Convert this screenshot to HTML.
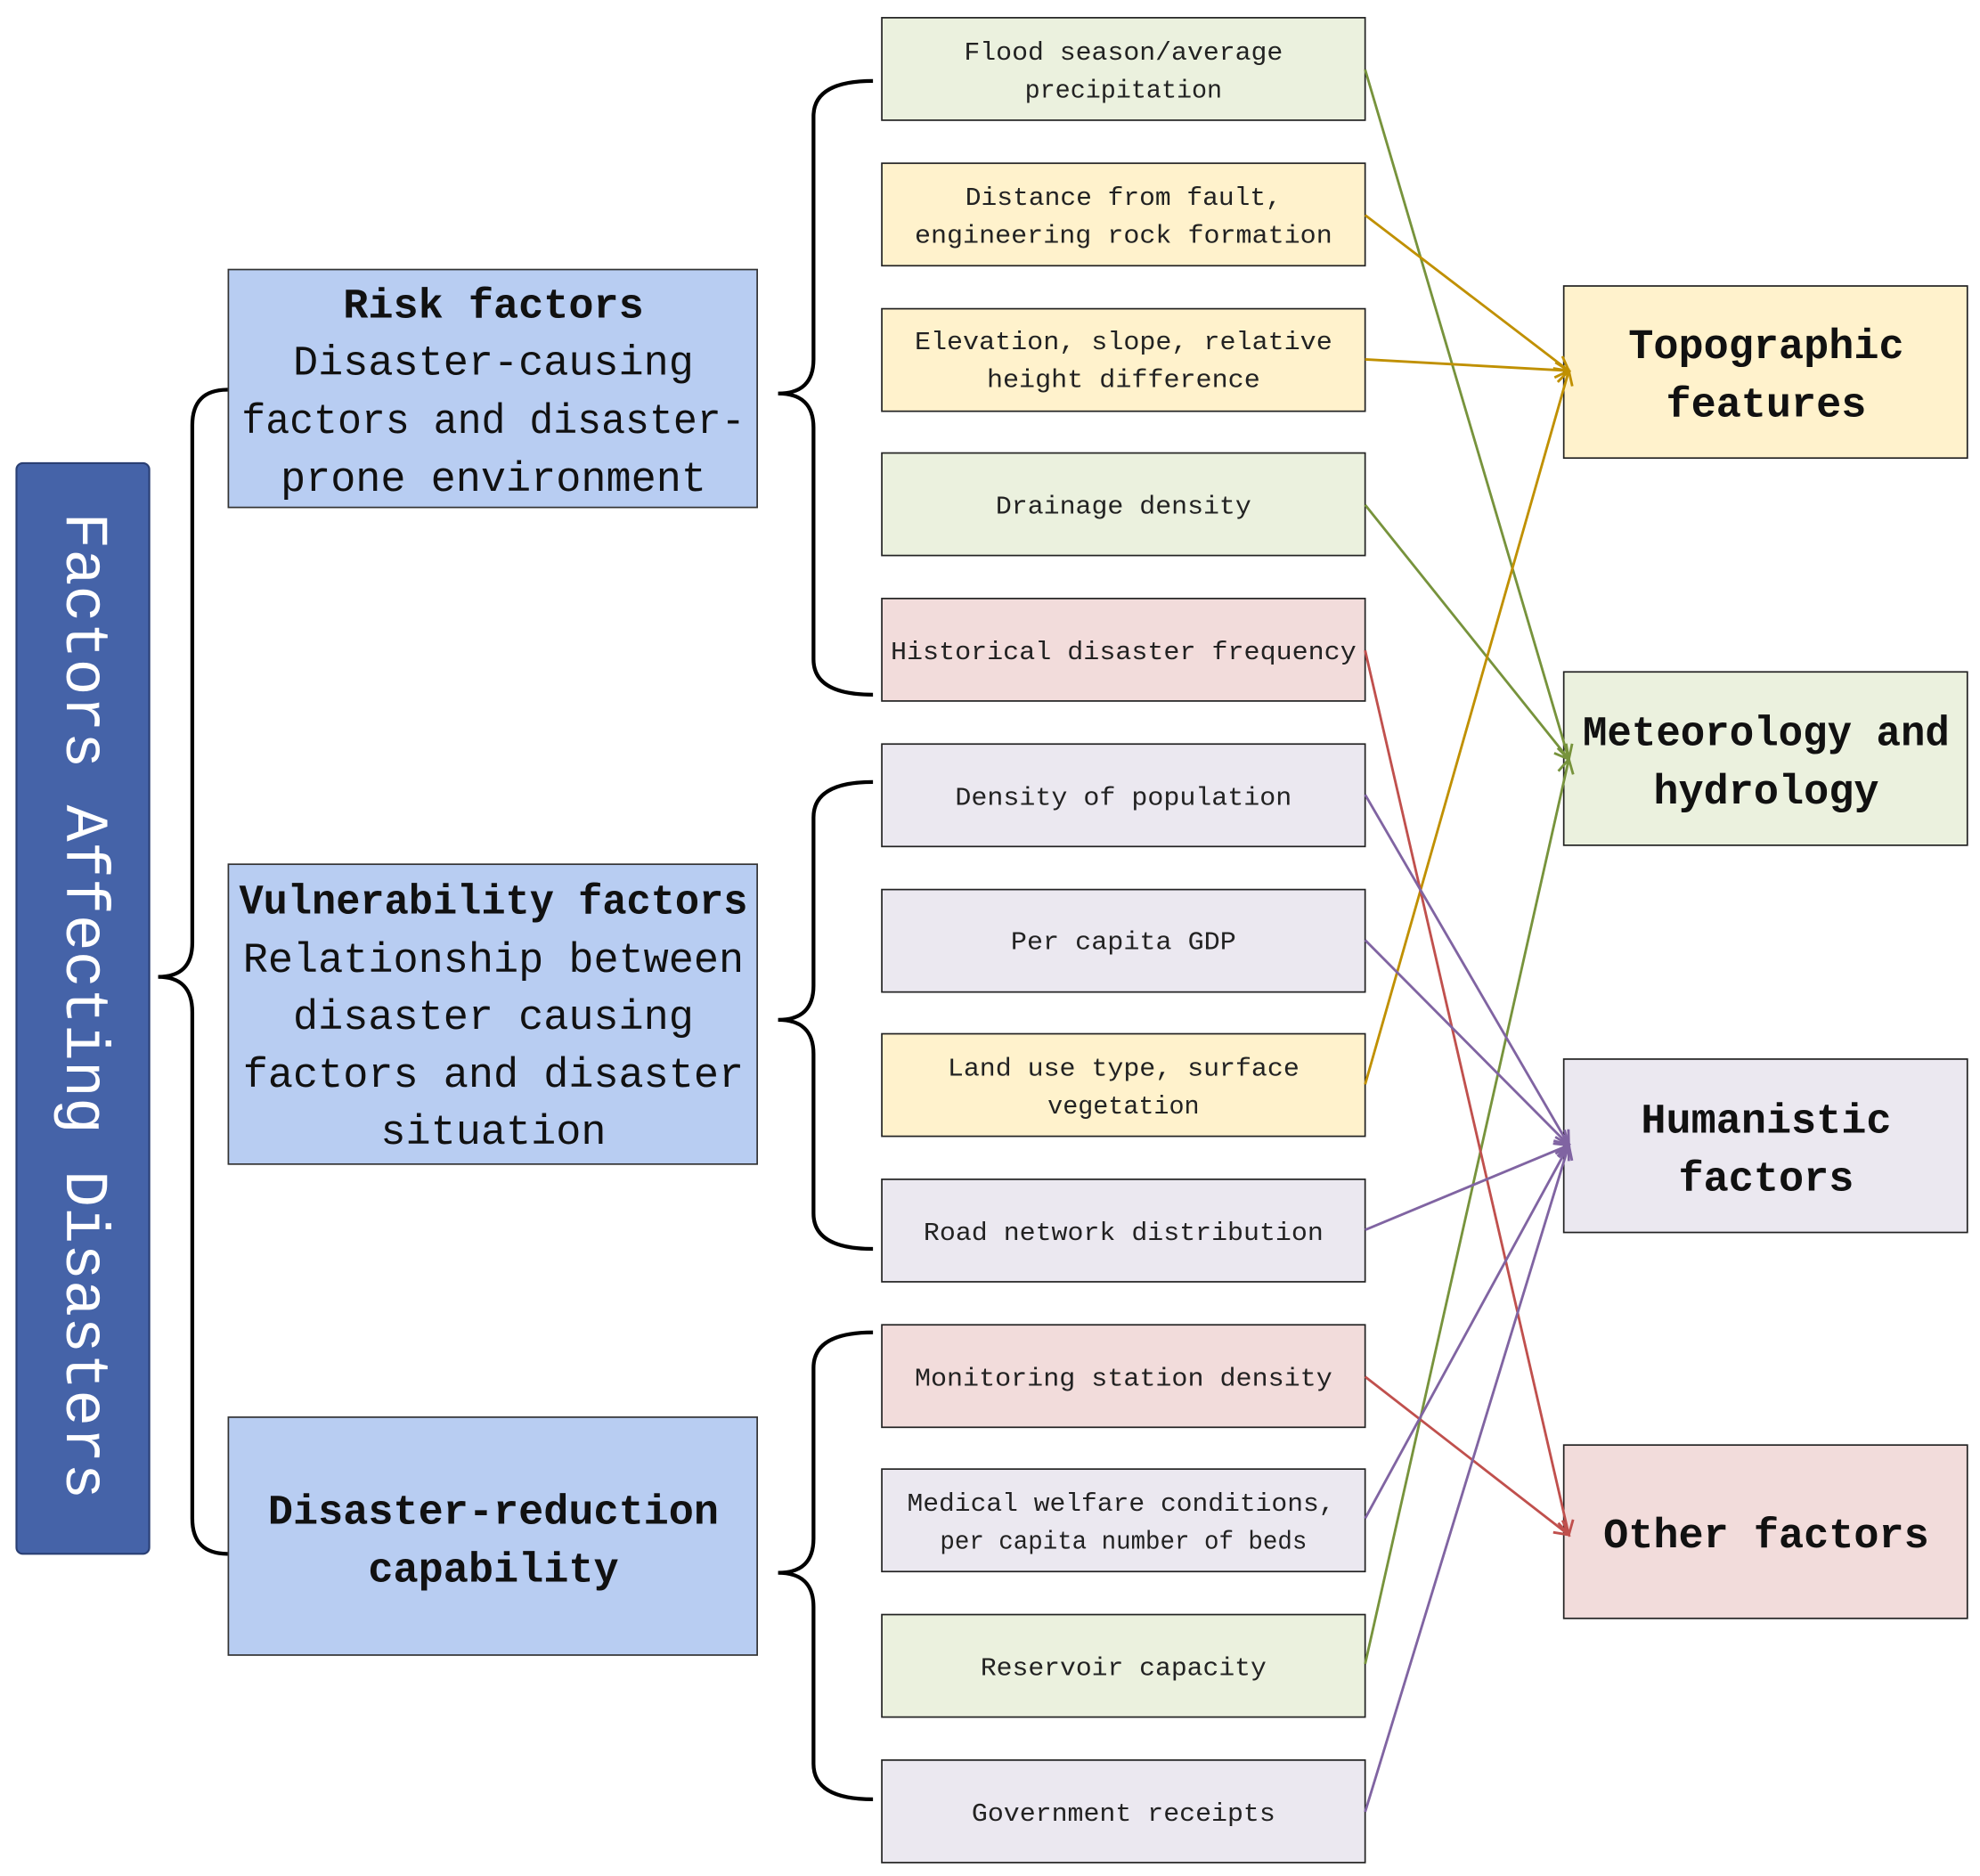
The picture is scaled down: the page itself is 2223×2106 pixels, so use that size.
<!DOCTYPE html>
<html><head><meta charset="utf-8"><style>
html,body{margin:0;padding:0;background:#fff;}
svg{display:block;}
.s{font-family:"Liberation Mono","Noto Serif CJK SC",monospace;font-size:20px;fill:#222;}
.m{font-family:"Liberation Mono","Noto Serif CJK SC",monospace;font-size:33px;fill:#111;}
.b{font-weight:bold;}
</style></head><body>
<svg width="2223" height="2106" viewBox="0 0 1565 1482.6" preserveAspectRatio="none" xmlns="http://www.w3.org/2000/svg">
<defs>
<marker id="ag" markerWidth="14" markerHeight="14" refX="12" refY="7" orient="auto" markerUnits="userSpaceOnUse"><path d="M1,1 L12,7 L1,13" fill="none" stroke="#77933c" stroke-width="2"/></marker>
<marker id="ay" markerWidth="14" markerHeight="14" refX="12" refY="7" orient="auto" markerUnits="userSpaceOnUse"><path d="M1,1 L12,7 L1,13" fill="none" stroke="#c09000" stroke-width="2"/></marker>
<marker id="ar" markerWidth="14" markerHeight="14" refX="12" refY="7" orient="auto" markerUnits="userSpaceOnUse"><path d="M1,1 L12,7 L1,13" fill="none" stroke="#c0504d" stroke-width="2"/></marker>
<marker id="ap" markerWidth="14" markerHeight="14" refX="12" refY="7" orient="auto" markerUnits="userSpaceOnUse"><path d="M1,1 L12,7 L1,13" fill="none" stroke="#8064a2" stroke-width="2"/></marker>
</defs>

<!-- left title box -->
<rect x="13" y="366" width="105" height="862" rx="5" fill="#4563a8" stroke="#2a3f73" stroke-width="1.5"/>
<text transform="translate(65,795) rotate(90)" text-anchor="middle" dominant-baseline="central" font-family="Liberation Mono, monospace" font-size="48" fill="#fff" textLength="780" lengthAdjust="spacingAndGlyphs">Factors Affecting Disasters</text>

<!-- big brace -->
<path d="M180,308 Q152,308 152,336 L152,745 Q152,772 125,772 Q152,772 152,800 L152,1200 Q152,1228 180,1228" fill="none" stroke="#000" stroke-width="3"/>

<!-- middle boxes -->
<rect x="180.5" y="213" width="418" height="188" fill="#b8cdf2" stroke="#333" stroke-width="1.2"/>
<text class="m b" x="390" y="251" text-anchor="middle">Risk factors</text>
<text class="m" x="390" y="296" text-anchor="middle">Disaster-causing</text>
<text class="m" x="390" y="342" text-anchor="middle" textLength="398" lengthAdjust="spacingAndGlyphs">factors and disaster-</text>
<text class="m" x="390" y="388" text-anchor="middle">prone environment</text>

<rect x="180.5" y="683" width="418" height="237" fill="#b8cdf2" stroke="#333" stroke-width="1.2"/>
<text class="m b" x="390" y="722" text-anchor="middle" textLength="402" lengthAdjust="spacingAndGlyphs">Vulnerability factors</text>
<text class="m" x="390" y="768" text-anchor="middle">Relationship between</text>
<text class="m" x="390" y="813" text-anchor="middle">disaster causing</text>
<text class="m" x="390" y="859" text-anchor="middle">factors and disaster</text>
<text class="m" x="390" y="904" text-anchor="middle">situation</text>

<rect x="180.5" y="1120" width="418" height="188" fill="#b8cdf2" stroke="#333" stroke-width="1.2"/>
<text class="m b" x="390" y="1204" text-anchor="middle">Disaster-reduction</text>
<text class="m b" x="390" y="1250" text-anchor="middle">capability</text>

<!-- right braces -->
<path d="M690,64 Q643,64 643,92 L643,284 Q643,311 615,311 Q643,311 643,338 L643,521 Q643,549 690,549" fill="none" stroke="#000" stroke-width="3"/>
<path d="M690,618 Q643,618 643,646 L643,779 Q643,806 615,806 Q643,806 643,833 L643,959 Q643,987 690,987" fill="none" stroke="#000" stroke-width="3"/>
<path d="M690,1053 Q643,1053 643,1081 L643,1216 Q643,1243 615,1243 Q643,1243 643,1270 L643,1394 Q643,1422 690,1422" fill="none" stroke="#000" stroke-width="3"/>

<!-- small boxes -->
<g stroke="#222" stroke-width="1.2">
<rect x="697" y="14" width="382" height="81" fill="#ebf1de"/>
<rect x="697" y="129" width="382" height="81" fill="#fff2cc"/>
<rect x="697" y="244" width="382" height="81" fill="#fff2cc"/>
<rect x="697" y="358" width="382" height="81" fill="#ebf1de"/>
<rect x="697" y="473" width="382" height="81" fill="#f2dcdb"/>
<rect x="697" y="588" width="382" height="81" fill="#ebe8f0"/>
<rect x="697" y="703" width="382" height="81" fill="#ebe8f0"/>
<rect x="697" y="817" width="382" height="81" fill="#fff2cc"/>
<rect x="697" y="932" width="382" height="81" fill="#ebe8f0"/>
<rect x="697" y="1047" width="382" height="81" fill="#f2dcdb"/>
<rect x="697" y="1161" width="382" height="81" fill="#ebe8f0"/>
<rect x="697" y="1276" width="382" height="81" fill="#ebf1de"/>
<rect x="697" y="1391" width="382" height="81" fill="#ebe8f0"/>
</g>
<g class="s" text-anchor="middle">
<text x="888" y="47" textLength="252" lengthAdjust="spacingAndGlyphs">Flood season/average</text>
<text x="888" y="77">precipitation</text>
<text x="888" y="162" textLength="250" lengthAdjust="spacingAndGlyphs">Distance from fault,</text>
<text x="888" y="192" textLength="330" lengthAdjust="spacingAndGlyphs">engineering rock formation</text>
<text x="888" y="276" textLength="330" lengthAdjust="spacingAndGlyphs">Elevation, slope, relative</text>
<text x="888" y="306" textLength="216" lengthAdjust="spacingAndGlyphs">height difference</text>
<text x="888" y="406" textLength="202" lengthAdjust="spacingAndGlyphs">Drainage density</text>
<text x="888" y="521" textLength="368" lengthAdjust="spacingAndGlyphs">Historical disaster frequency</text>
<text x="888" y="636" textLength="266" lengthAdjust="spacingAndGlyphs">Density of population</text>
<text x="888" y="750" textLength="178" lengthAdjust="spacingAndGlyphs">Per capita GDP</text>
<text x="888" y="850" textLength="278" lengthAdjust="spacingAndGlyphs">Land use type, surface</text>
<text x="888" y="880">vegetation</text>
<text x="888" y="980" textLength="316" lengthAdjust="spacingAndGlyphs">Road network distribution</text>
<text x="888" y="1095" textLength="330" lengthAdjust="spacingAndGlyphs">Monitoring station density</text>
<text x="886" y="1194" textLength="338" lengthAdjust="spacingAndGlyphs">Medical welfare conditions,</text>
<text x="888" y="1224" textLength="290" lengthAdjust="spacingAndGlyphs">per capita number of beds</text>
<text x="888" y="1324" textLength="226" lengthAdjust="spacingAndGlyphs">Reservoir capacity</text>
<text x="888" y="1439" textLength="240" lengthAdjust="spacingAndGlyphs">Government receipts</text>
</g>

<!-- right boxes -->
<g stroke="#222" stroke-width="1.2">
<rect x="1236" y="226" width="319" height="136" fill="#fff2cc"/>
<rect x="1236" y="531" width="319" height="137" fill="#ebf1de"/>
<rect x="1236" y="837" width="319" height="137" fill="#ebe8f0"/>
<rect x="1236" y="1142" width="319" height="137" fill="#f2dcdb"/>
</g>
<g class="m b" text-anchor="middle">
<text x="1396" y="283">Topographic</text>
<text x="1396" y="329">features</text>
<text x="1396" y="589" textLength="290" lengthAdjust="spacingAndGlyphs">Meteorology and</text>
<text x="1396" y="635">hydrology</text>
<text x="1396" y="895">Humanistic</text>
<text x="1396" y="941">factors</text>
<text x="1396" y="1223">Other factors</text>
</g>

<!-- arrows -->
<g fill="none" stroke-width="2">
<line x1="1079" y1="55" x2="1240" y2="600" stroke="#77933c" marker-end="url(#ag)"/>
<line x1="1079" y1="399" x2="1240" y2="600" stroke="#77933c" marker-end="url(#ag)"/>
<line x1="1079" y1="1315" x2="1240" y2="600" stroke="#77933c" marker-end="url(#ag)"/>
<line x1="1079" y1="170" x2="1240" y2="293" stroke="#c09000" marker-end="url(#ay)"/>
<line x1="1079" y1="284" x2="1240" y2="293" stroke="#c09000" marker-end="url(#ay)"/>
<line x1="1079" y1="857" x2="1240" y2="293" stroke="#c09000" marker-end="url(#ay)"/>
<line x1="1079" y1="514" x2="1240" y2="1213" stroke="#c0504d" marker-end="url(#ar)"/>
<line x1="1079" y1="1088" x2="1240" y2="1213" stroke="#c0504d" marker-end="url(#ar)"/>
<line x1="1079" y1="628" x2="1240" y2="905" stroke="#8064a2" marker-end="url(#ap)"/>
<line x1="1079" y1="743" x2="1240" y2="905" stroke="#8064a2" marker-end="url(#ap)"/>
<line x1="1079" y1="972" x2="1240" y2="905" stroke="#8064a2" marker-end="url(#ap)"/>
<line x1="1079" y1="1200" x2="1240" y2="905" stroke="#8064a2" marker-end="url(#ap)"/>
<line x1="1079" y1="1432" x2="1240" y2="905" stroke="#8064a2" marker-end="url(#ap)"/>
</g>
</svg>
</body></html>
